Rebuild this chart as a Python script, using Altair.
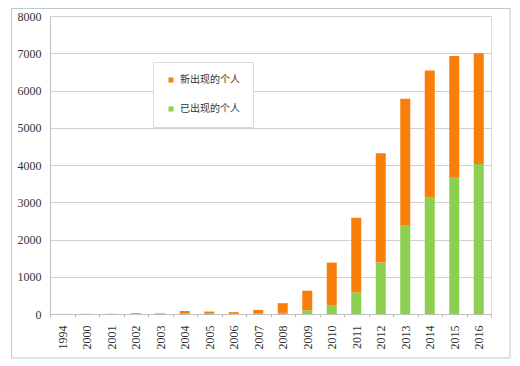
import altair as alt
import pandas as pd

years = ["1994", "2000", "2001", "2002", "2003", "2004", "2005", "2006", "2007",
         "2008", "2009", "2010", "2011", "2012", "2013", "2014", "2015", "2016"]
existing = [0, 0, 0, 0, 0, 5, 5, 5, 10, 30, 100, 240, 580, 1380, 2370, 3130, 3660, 4030]
newcomers = [3, 5, 5, 20, 15, 75, 60, 45, 100, 260, 525, 1140, 2005, 2935, 3410, 3410, 3265, 2970]
series = ["新出现的个人", "已出现的个人"]
colors = ["#FA7F0A", "#8DCF4F"]

rows = []
for y, e, n in zip(years, existing, newcomers):
    rows.append({"year": y, "series": series[1], "value": e, "ord": 0})
    rows.append({"year": y, "series": series[0], "value": n, "ord": 1})
df = pd.DataFrame(rows)

W, H = 441, 298
serif = "Liberation Serif"

frame = alt.Chart(pd.DataFrame({"a": [0]})).mark_rect(
    fillOpacity=0, stroke="#B9C9D6", strokeWidth=1, clip=False
).encode(
    x=alt.value(-38.5), x2=alt.value(460), y=alt.value(-7.5), y2=alt.value(342)
)

bars = alt.Chart(df).mark_bar(size=10).encode(
    x=alt.X("year:N", sort=years, title=None,
            scale=alt.Scale(paddingInner=0, paddingOuter=0),
            axis=alt.Axis(labelAngle=-90, labelFont=serif, labelFontSize=12,
                          labelColor="#333333", labelPadding=8, domainColor="#BFBFBF",
                          tickColor="#BFBFBF", tickSize=3, tickBand="extent", grid=False)),
    y=alt.Y("value:Q", stack="zero", title=None,
            scale=alt.Scale(domain=[0, 8000], nice=False),
            axis=alt.Axis(values=list(range(0, 8001, 1000)), format="d", labelFont=serif,
                          labelFontSize=12, labelColor="#333333", labelPadding=9,
                          ticks=False, domainColor="#BFBFBF", gridColor="#D0D0D0")),
    color=alt.Color("series:N", scale=alt.Scale(domain=series, range=colors),
                    legend=alt.Legend(title=None, orient="none", legendX=103, legendY=46,
                                      symbolType="square", symbolSize=25,
                                      labelFont="Noto Sans CJK SC", labelFontSize=10,
                                      labelColor="#333333", rowPadding=19,
                                      padding=13, fillColor="white",
                                      strokeColor="#DADADA", symbolStrokeWidth=0)),
    order=alt.Order("ord:Q", sort="ascending"),
)

chart = alt.layer(frame, bars).properties(
    width=W, height=H,
    autosize=alt.AutoSizeParams(type="none"),
    padding={"left": 42, "top": 8, "right": 20, "bottom": 45},
).configure_view(stroke=None).configure(background="white")

chart.save("out.html", embed_options={"renderer": "svg", "actions": False})
